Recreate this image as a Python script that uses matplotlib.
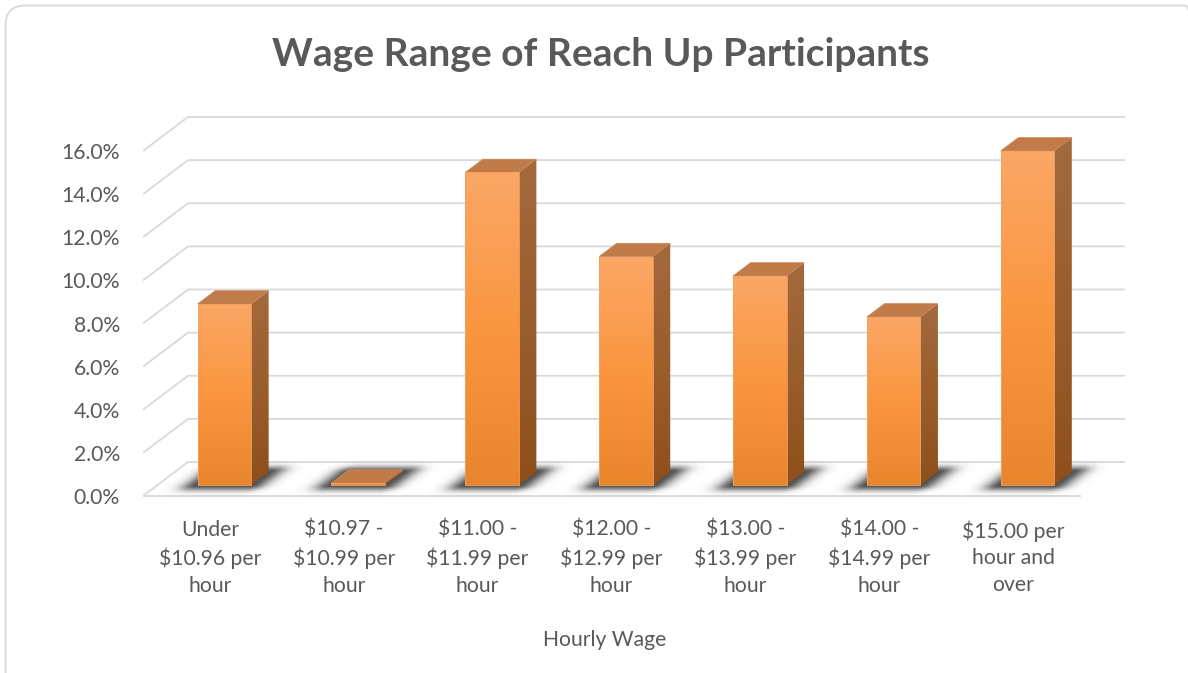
import numpy as np
import matplotlib
matplotlib.use("Agg")
import matplotlib.pyplot as plt
from matplotlib.patches import Polygon, FancyBboxPatch
from matplotlib.colors import LinearSegmentedColormap
from matplotlib.transforms import IdentityTransform, blended_transform_factory

# ---------------- data ----------------
categories = [
    "Under\n$10.96 per\nhour",
    "$10.97 -\n$10.99 per\nhour",
    "$11.00 -\n$11.99 per\nhour",
    "$12.00 -\n$12.99 per\nhour",
    "$13.00 -\n$13.99 per\nhour",
    "$14.00 -\n$14.99 per\nhour",
    "$15.00 per\nhour and\nover",
]
values = [8.4, 0.1, 14.5, 10.6, 9.7, 7.8, 15.5]   # percent
yticks = [0, 2, 4, 6, 8, 10, 12, 14, 16]
ytick_labels = [f"{v:.1f}%" for v in yticks]
title = "Wage Range of Reach Up Participants"
xlabel = "Hourly Wage"

# ---------------- style ----------------
plt.rcParams["font.family"] = ["Lato", "DejaVu Sans"]
TXT = "#595959"
GRID = "#D9D9D9"
FRONT = ["#FBA766", "#F9963F", "#E8852D"]
SIDE = ["#A36A3E", "#9A5D2C", "#8E4F1B"]
TOPC = "#C17B49"

W, H = 1188, 673
fig = plt.figure(figsize=(W / 100, H / 100), dpi=100)
fig.patch.set_facecolor("white")

# rounded chart border (pixel coordinates)
border = FancyBboxPatch((5.5, -20), 1200, H - 5.5 + 20,
                        boxstyle="round,pad=0,rounding_size=20",
                        transform=IdentityTransform(), facecolor="none",
                        edgecolor="#D9D9D9", linewidth=1.3)
fig.add_artist(border)

# geometry of the pseudo-3D plot (front plane)
n = len(categories)
px0 = 143.0                 # px of front-left floor corner
ppc = 937.0 / n             # px per category
y0px = 496.0                # px of 0% on front plane
ppp = 345.0 / 16.0          # px per percent
DX = 45.0 / ppc             # depth offset in category units
DY = 34.0 / ppp             # depth offset in percent units
xlim = (-0.5, 6.95)
ylim = (-0.5, 18.3)

left_px = px0 + (xlim[0] + 0.5) * ppc
right_px = px0 + (xlim[1] + 0.5) * ppc
bot_px = y0px - ylim[0] * ppp
top_px = y0px - ylim[1] * ppp
ax = fig.add_axes([left_px / W, 1 - bot_px / H,
                   (right_px - left_px) / W, (bot_px - top_px) / H])
ax.patch.set_alpha(0)
for s in ax.spines.values():
    s.set_visible(False)

# gridlines (back wall + left wall diagonals)
for v in yticks:
    ax.plot([-0.5, -0.5 + DX, n - 0.5 + DX], [v, v + DY, v + DY],
            color=GRID, lw=1.3, zorder=1, solid_capstyle="butt")
ax.plot([-0.5, n - 0.5], [0, 0], color=GRID, lw=1.3, zorder=1)

# bar geometry
hw = 0.2
d0, d1 = 0.32, 0.71

# soft floor shadows
gx = np.linspace(xlim[0], xlim[1], 1600)
gy = np.linspace(-0.5, DY + 0.5, 220)
X, Y = np.meshgrid(gx, gy)
depth = Y / DY
fx = X - depth * DX
alpha = np.zeros_like(X)
for i in range(n):
    ex = np.maximum(0, np.abs(fx - i) - hw) * ppc
    ey = np.maximum(0, np.maximum(d0 - depth, depth - d1)) * 34.0
    a = 0.85 * np.exp(-(ex / 15.0) ** 2 - (ey / 5.5) ** 2)
    alpha = np.maximum(alpha, a)
rgba = np.zeros(X.shape + (4,))
rgba[..., :3] = 0.2
rgba[..., 3] = alpha
ax.imshow(rgba, extent=[gx[0], gx[-1], gy[0], gy[-1]], origin="lower",
          aspect="auto", zorder=2, interpolation="bilinear")


def grad_face(verts, colors, z):
    poly = Polygon(verts, closed=True, facecolor="none", edgecolor="none",
                   transform=ax.transData)
    ax.add_patch(poly)
    xs = [p[0] for p in verts]
    ys = [p[1] for p in verts]
    cmap = LinearSegmentedColormap.from_list("g", colors)
    img = np.linspace(0, 1, 256).reshape(-1, 1)
    im = ax.imshow(img, cmap=cmap, extent=[min(xs), max(xs), min(ys), max(ys)],
                   origin="upper", aspect="auto", zorder=z,
                   interpolation="bilinear")
    im.set_clip_path(poly)
    return poly


for i, v in enumerate(values):
    xl = i - hw + d0 * DX
    xr = i + hw + d0 * DX
    yb = d0 * DY
    front = [(xl, yb), (xr, yb), (xr, yb + v), (xl, yb + v)]
    side = [(xr, yb), (xr + (d1 - d0) * DX, d1 * DY),
            (xr + (d1 - d0) * DX, d1 * DY + v), (xr, yb + v)]
    top = [(xl, yb + v), (xr, yb + v), (xr + (d1 - d0) * DX, d1 * DY + v),
           (xl + (d1 - d0) * DX, d1 * DY + v)]
    grad_face(side, SIDE, 3)
    ax.add_patch(Polygon(top, closed=True, facecolor=TOPC, edgecolor="#C8855A",
                         lw=0.5, zorder=3))
    grad_face(front, FRONT, 4)
    ax.add_patch(Polygon(front, closed=True, facecolor="none",
                         edgecolor="#F4A160", lw=0.6, zorder=4.5))

ax.set_xlim(*xlim)
ax.set_ylim(*ylim)
ax.set_xticks([])
ax.set_yticks(yticks)
ax.set_yticklabels(ytick_labels, fontsize=15.2, color=TXT)
ax.tick_params(axis="y", length=0, pad=16.5)

# category labels
tr = blended_transform_factory(ax.transData, fig.transFigure)
for i, c in enumerate(categories):
    ax.text(i, 1 - 520 / H, c, transform=tr, ha="center", va="top",
            fontsize=15.2, color=TXT, linespacing=1.42)

fig.text(605 / W, 1 - 640 / H, xlabel, ha="center", va="center",
         fontsize=15.2, color=TXT)
fig.text(601 / W, 1 - 66 / H, title, ha="center", va="baseline",
         fontsize=28, weight="bold", color=TXT)

fig.savefig("out.png", dpi=100, facecolor="white")
